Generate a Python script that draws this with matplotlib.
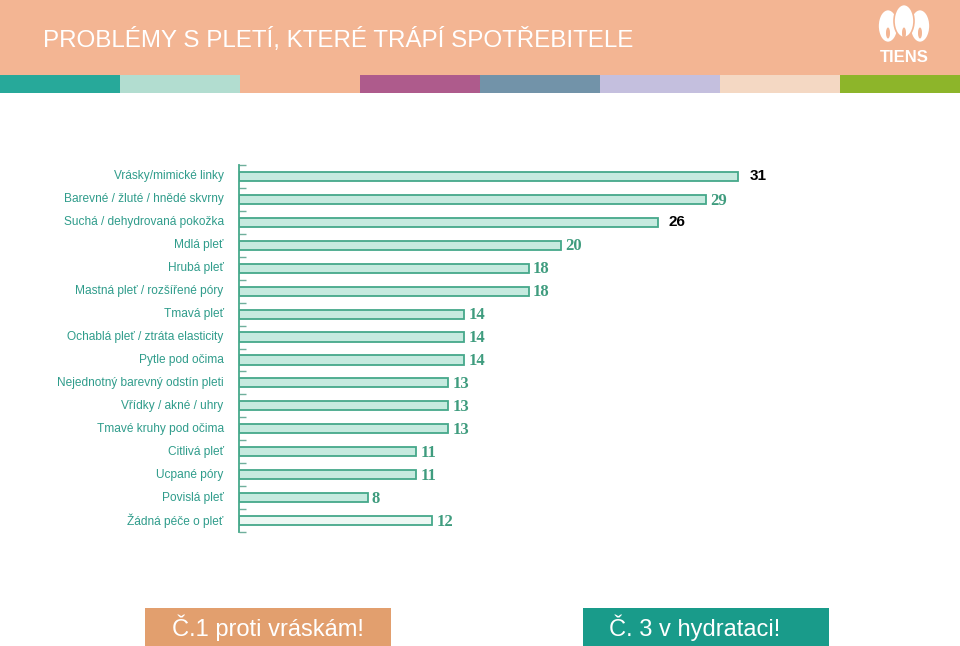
import matplotlib
matplotlib.use("Agg")
from matplotlib import pyplot as plt
from matplotlib.patches import Rectangle, Ellipse

# data
categories = ["Vrásky/mimické linky", "Barevné / žluté / hnědé skvrny",
              "Suchá / dehydrovaná pokožka", "Mdlá pleť", "Hrubá pleť",
              "Mastná pleť / rozšířené póry", "Tmavá pleť",
              "Ochablá pleť / ztráta elasticity", "Pytle pod očima",
              "Nejednotný barevný odstín pleti", "Vřídky / akné / uhry",
              "Tmavé kruhy pod očima", "Citlivá pleť", "Ucpané póry",
              "Povislá pleť", "Žádná péče o pleť"]
values = [31, 29, 26, 20, 18, 18, 14, 14, 14, 13, 13, 13, 11, 11, 8, 12]
highlight = [True, False, True] + [False] * 13

title = "PROBLÉMY S PLETÍ, KTERÉ TRÁPÍ SPOTŘEBITELE"
strip_colors = ["#27A99A", "#B2DDD0", "#F3B593", "#AE5B8C",
                "#7293A9", "#C4BFDE", "#F4D8C3", "#8DB52A"]
box_texts = ["Č.1 proti vráskám!", "Č. 3 v hydrataci!"]
box_colors = ["#E29F6E", "#199B8A"]

plt.rcParams['font.family'] = ['Liberation Sans', 'DejaVu Sans']
salmon = "#F3B593"

fig = plt.figure(figsize=(9.6, 6.46), dpi=100)

# background layer in pixel coordinates
bg = fig.add_axes([0, 0, 1, 1], zorder=0)
bg.set_xlim(0, 960)
bg.set_ylim(646, 0)
bg.axis("off")

bg.add_patch(Rectangle((0, 0), 960, 75, color=salmon, lw=0))
for i, c in enumerate(strip_colors):
    bg.add_patch(Rectangle((i * 120, 75), 120, 18, color=c, lw=0))
bg.text(43, 40, title, color="white", fontsize=17.4, va="center", ha="left")

# simple logo: three petals + name
for cx, cy in ((888, 26), (920, 26), (904, 21)):
    bg.add_patch(Ellipse((cx, cy), 20, 33, fc="white", ec=salmon, lw=1.2))
for cx in (888, 904, 920):
    bg.add_patch(Ellipse((cx, 33), 4, 11, fc=salmon, ec="none"))
bg.text(904, 57, "TIENS", color="white", fontsize=12, fontweight="bold",
        ha="center", va="center")

# bottom boxes
for x0, txt, c, dx in zip((145, 583), box_texts, box_colors, (123, 112)):
    bg.add_patch(Rectangle((x0, 608), 246, 38, color=c, lw=0))
    bg.text(x0 + dx, 628, txt, color="white", fontsize=17, ha="center",
            va="center")

# bar chart
ax = fig.add_axes([239 / 960, (646 - 532) / 646, 661 / 960, 367 / 646], zorder=1)
ax.patch.set_alpha(0)
pos = list(range(len(categories)))
fills = ["#C6EADF"] * (len(values) - 1) + ["#EEF8F4"]
ax.barh(pos, values, height=0.4, color=fills, edgecolor="#45A88A", linewidth=1.3)

for p, v, h in zip(pos, values, highlight):
    if h:
        ax.text(v + 0.7, p, str(v), color="black", fontsize=11, fontweight="bold",
                va="center", ha="left")
    else:
        ax.text(v + 0.25, p + 0.05, str(v), color="#3F9C7E", fontsize=12,
                fontweight="bold", va="center", ha="left", family="Liberation Serif")

ax.set_xlim(0, 661 / 16.1)
ax.set_ylim(15.5, -0.5)
for s in ("top", "right", "bottom"):
    ax.spines[s].set_visible(False)
ax.spines["left"].set_color("#45A88A")
ax.spines["left"].set_linewidth(1.3)
ax.set_xticks([])
ax.set_yticks([p - 0.5 for p in pos] + [15.5])
ax.set_yticklabels([])
ax.tick_params(axis="y", direction="in", length=5, color="#6FAF9C", width=1)

for p, cat in zip(pos, categories):
    ax.text(-0.95, p, cat, color="#2F9C8B", fontsize=8.6, ha="right", va="center")

fig.savefig("out.png", dpi=100)
